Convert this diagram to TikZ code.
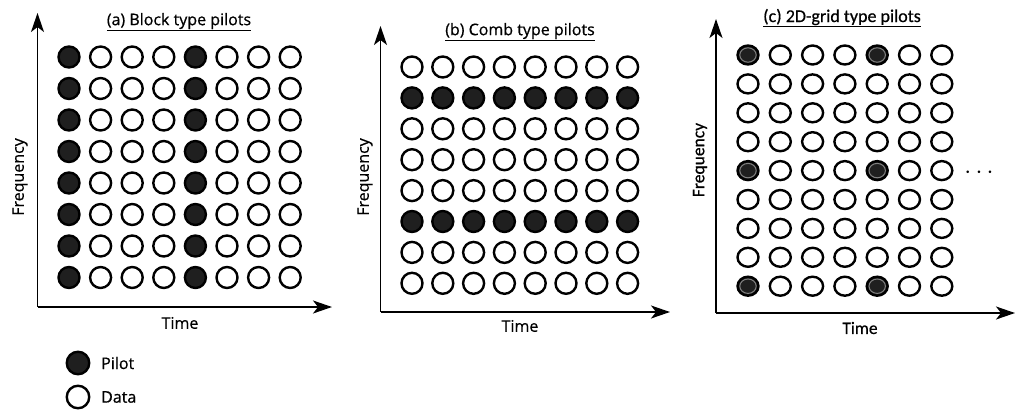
\documentclass[tikz,border=0pt]{standalone}
\usepackage{fontspec}
\setmainfont{Open Sans}[FakeBold=0.6]
\newfontfamily\gridfont{Carlito}[FakeBold=0.6]
\usetikzlibrary{arrows.meta,shapes.geometric}

\tikzset{
  axis/.style={line width=1.5pt, -{Stealth[length=19pt,width=13pt,inset=5pt]}},
  datadot/.style={circle, draw=black, line width=2.4pt, fill=white, minimum size=21pt, inner sep=0pt},
  pilotdot/.style={datadot, fill=black!88},
  dataoval/.style={ellipse, draw=black, line width=2.4pt, fill=white, minimum width=21pt, minimum height=19pt, inner sep=0pt},
  pilotoval/.style={dataoval, fill=black!88,
    path picture={\draw[gray, line width=1pt] (path picture bounding box.center) ellipse (8.2pt and 7.2pt);}},
  paneltitle/.style={font=\fontsize{16}{19}\selectfont, inner sep=0pt},
  axislabel/.style={font=\fontsize{16}{19}\selectfont, inner sep=0pt},
  gridtitle/.style={font=\gridfont\fontsize{18}{20}\selectfont, inner sep=0pt},
  gridlabel/.style={font=\gridfont\fontsize{17.5}{20}\selectfont, inner sep=0pt},
}

\begin{document}
\begin{tikzpicture}[x=1pt,y=-1pt]
\useasboundingbox (0,0) rectangle (1017,410);

% ---------- (a) block type pilots ----------
\coordinate (a-o) at (37.5,307);
\coordinate (a-y) at (37.5,13);
\coordinate (a-x) at (332,307);
\draw[axis] (a-o) -- (a-y);
\draw[axis] (a-o) -- (a-x);
\node[paneltitle] (a-title) at (179,22) {\underline{(a) Block type pilots}};
\node[axislabel, rotate=90] (a-freq) at (20,177) {Frequency};
\node[axislabel] (a-time) at (180,323) {Time};
\foreach \c in {1,...,8}{
  \foreach \r in {1,...,8}{
    \pgfmathsetmacro{\px}{69+(\c-1)*31.6}
    \pgfmathsetmacro{\py}{57+(\r-1)*31.5}
    \ifnum\c=1 \def\sty{pilotdot}\else\ifnum\c=5 \def\sty{pilotdot}\else\def\sty{datadot}\fi\fi
    \node[\sty] (a-\r-\c) at (\px,\py) {};
  }
}

% ---------- (b) comb type pilots ----------
\coordinate (b-o) at (380.5,312);
\coordinate (b-y) at (380.5,26);
\coordinate (b-x) at (670,312);
\draw[axis] (b-o) -- (b-y);
\draw[axis] (b-o) -- (b-x);
\node[paneltitle] (b-title) at (520,32) {\underline{(b) Comb type pilots}};
\node[axislabel, rotate=90] (b-freq) at (365,177) {Frequency};
\node[axislabel] (b-time) at (520,326) {Time};
\foreach \c in {1,...,8}{
  \foreach \r in {1,...,8}{
    \pgfmathsetmacro{\px}{412+(\c-1)*30.8}
    \pgfmathsetmacro{\py}{67+(\r-1)*30.9}
    \ifnum\r=2 \def\sty{pilotdot}\else\ifnum\r=6 \def\sty{pilotdot}\else\def\sty{datadot}\fi\fi
    \node[\sty] (b-\r-\c) at (\px,\py) {};
  }
}

% ---------- (c) 2D-grid type pilots ----------
\coordinate (c-o) at (716,313);
\coordinate (c-y) at (716,19);
\coordinate (c-x) at (1015,313);
\draw[axis] (c-o) -- (c-y);
\draw[axis] (c-o) -- (c-x);
\node[gridtitle] (c-title) at (842,18) {\underline{(c) 2D-grid type pilots}};
\node[gridlabel, rotate=90] (c-freq) at (700,160) {Frequency};
\node[gridlabel] (c-time) at (860,328) {Time};
\foreach \c in {1,...,7}{
  \foreach \r in {1,...,9}{
    \pgfmathsetmacro{\px}{748+(\c-1)*32.3}
    \pgfmathsetmacro{\py}{55+(\r-1)*28.9}
    \def\sty{dataoval}
    \ifnum\c=1 \ifnum\r=1 \def\sty{pilotoval}\fi\ifnum\r=5 \def\sty{pilotoval}\fi\ifnum\r=9 \def\sty{pilotoval}\fi\fi
    \ifnum\c=5 \ifnum\r=1 \def\sty{pilotoval}\fi\ifnum\r=5 \def\sty{pilotoval}\fi\ifnum\r=9 \def\sty{pilotoval}\fi\fi
    \node[\sty] (c-\r-\c) at (\px,\py) {};
  }
}
\node[font=\fontsize{24}{24}\selectfont, inner sep=0pt] (c-dots) at (979,173) {$\cdots$};

% ---------- legend ----------
\node[pilotdot, minimum size=22.5pt] (leg-pilot) at (78,363) {};
\node[datadot, minimum size=22.5pt] (leg-data) at (78,397) {};
\node[axislabel, anchor=west] (leg-pilot-text) at (101,363) {Pilot};
\node[axislabel, anchor=west] (leg-data-text) at (101,397) {Data};
\end{tikzpicture}
\end{document}
